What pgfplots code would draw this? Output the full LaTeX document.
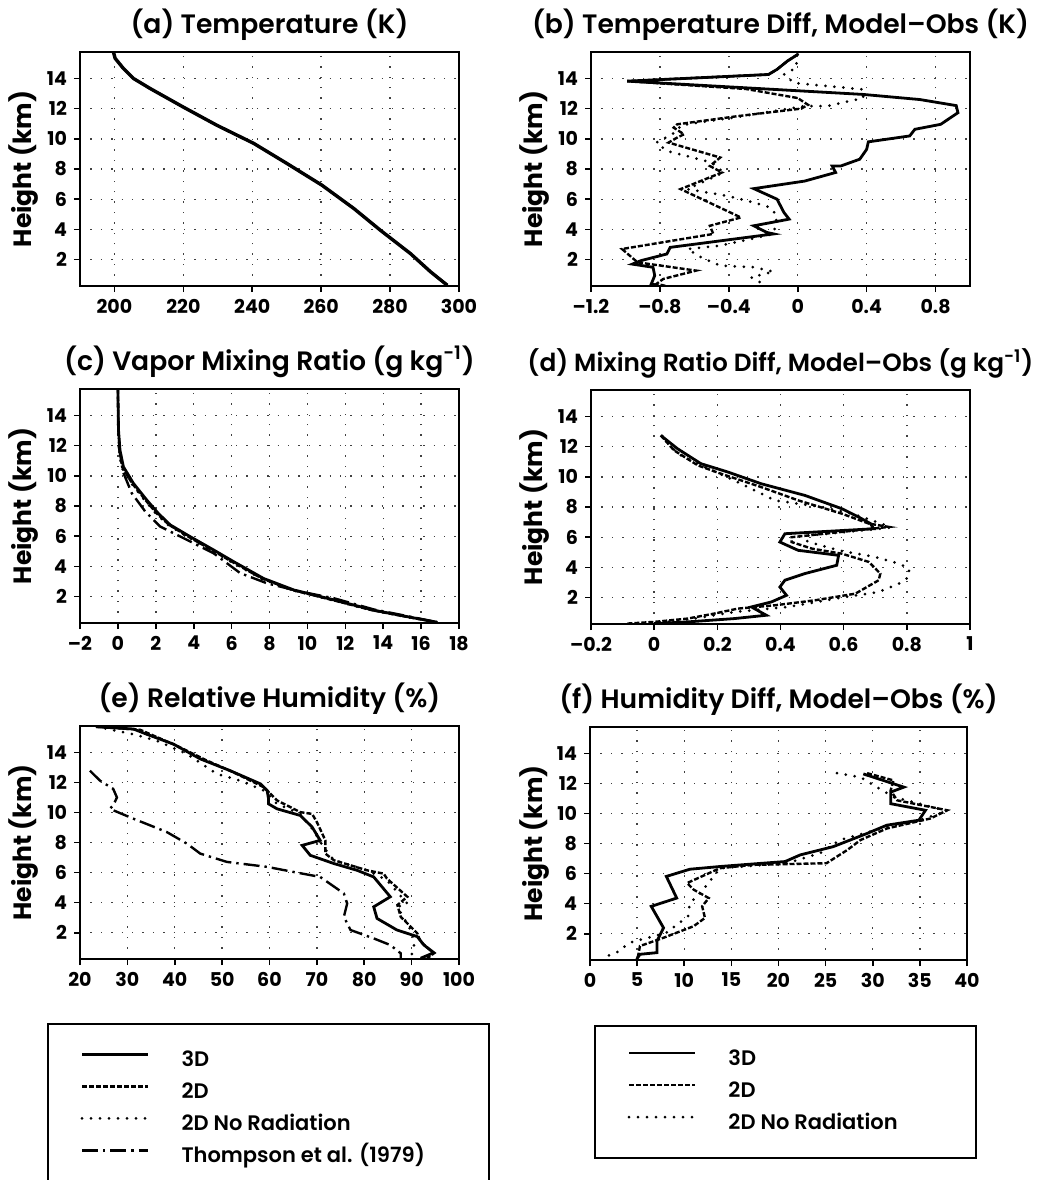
\documentclass[border=0pt]{standalone}
\usepackage{pgfplots}
\pgfplotsset{compat=1.18}
\usepackage{fontspec}
\setmainfont{Poppins}
\newfontfamily\medium{Poppins SemiBold}

\pgfplotsset{
  panel/.style={
    scale only axis, width=189.5pt, height=117pt,
    ymin=0.25, ymax=15.75, ytick={2,4,...,14},
    axis line style={line width=1.1pt},
    tick align=outside, xtick pos=left, ytick pos=left,
    major tick length=3pt, tick style={line width=0.8pt, black},
    grid=major, major grid style={line width=0.7pt, dash pattern=on 0.7pt off 4.5pt, black!75},
    /pgf/number format/assume math mode=true,
    tick label style={font=\fontsize{9.5}{11}\selectfont\bfseries},
    ylabel={Height (km)},
    every axis y label/.style={at={(axis description cs:-0.148,0.5)}, rotate=90, anchor=center,
      font=\fontsize{12.5}{14}\selectfont\bfseries},
    every axis title/.style={at={(0.5,1)}, anchor=base, yshift=9.5pt,
      font=\fontsize{13.3}{15}\selectfont\medium},
  },
  s3d/.style={black, line width=1.4pt},
  s2d/.style={black, line width=1.2pt, dash pattern=on 2.5pt off 1pt},
  snr/.style={black, line width=1.5pt, line cap=round, dash pattern=on 0pt off 4.5pt},
  sth/.style={black, line width=1.2pt, dash pattern=on 8pt off 2.5pt on 1.2pt off 2.5pt},
  leg/.style={
    legend cell align=left,
    legend image code/.code={\path[draw=none] (0pt,3.5pt) -- (17pt,3.5pt); \draw[##1] (17pt,3.5pt) -- (50pt,3.5pt);},
    legend style={draw=black, line width=1pt, inner xsep=0pt, inner ysep=13pt,
      column sep=16pt, row sep=5pt,
      nodes={inner sep=0pt, text height=8pt, text depth=3pt},
      font=\fontsize{10.5}{12}\selectfont\medium},
  },
}

\begin{document}
\begin{tikzpicture}
\useasboundingbox (0,0) rectangle (526.5pt,-590pt);

% (a)
\begin{axis}[panel, at={(40pt,-26pt)}, anchor=north west,
  xmin=190, xmax=300, xtick={200,220,...,300},
  title={(a) Temperature (K)}]
\addplot[s2d] table {
199.7 15.75
200.2 15.33
202.6 14.66
205.5 14.0
210.3 13.34
220.0 12.1
229.7 10.9
240.4 9.7
250.1 8.36
260.2 6.93
269.5 5.38
277.2 3.94
285.9 2.4
291.7 1.2
296.6 0.3
};
\addplot[s3d, line width=1.7pt] table {
199.7 15.75
200.2 15.33
202.6 14.66
205.5 14.0
210.3 13.34
220.0 12.1
229.7 10.9
240.4 9.7
250.1 8.36
260.2 6.93
269.5 5.38
277.2 3.94
285.9 2.4
291.7 1.2
296.6 0.3
};
\end{axis}

% (b)
\begin{axis}[panel, at={(295.5pt,-26pt)}, anchor=north west,
  xmin=-1.2, xmax=1.0, xtick={-1.2,-0.8,-0.4,0,0.4,0.8},
  xticklabels={--1.2,--0.8,--0.4,0,0.4,0.8},
  title={(b) Temperature Diff, Model\textendash Obs (K)}]
\addplot[s3d] table {
0.0 15.59
-0.06 15.15
-0.12 14.6
-0.17 14.26
-0.99 13.82
0.38 12.94
0.71 12.6
0.92 12.2
0.93 11.73
0.83 10.96
0.68 10.63
0.65 10.19
0.41 9.8
0.40 9.3
0.36 8.65
0.25 8.2
0.20 8.2
0.22 7.77
0.04 7.2
-0.255 6.7
-0.12 6.0
-0.08 5.12
-0.05 4.68
-0.10 4.57
-0.255 4.24
-0.18 3.8
-0.14 3.7
-0.74 2.81
-0.76 2.37
-0.91 1.93
-0.96 1.7
-0.84 1.49
-0.83 0.94
-0.85 0.39
-0.81 0.28
};
\addplot[s2d] table {
0.0 15.59
-0.06 15.15
-0.12 14.6
-0.17 14.26
-0.99 13.82
-0.30 13.3
0.0 12.7
0.06 12.25
0.02 12.0
-0.35 11.5
-0.70 10.96
-0.72 10.74
-0.66 10.3
-0.70 10.08
-0.75 9.75
-0.45 8.76
-0.51 8.2
-0.44 7.77
-0.68 6.67
-0.33 4.79
-0.51 4.24
-0.49 3.7
-1.02 2.7
-0.93 1.82
-0.59 1.27
-0.78 0.72
-0.82 0.39
-0.76 0.24
};
\addplot[snr] table {
0.00 15.59
-0.01 14.7
-0.08 14.26
-0.02 13.7
0.38 13.27
0.38 12.7
0.17 12.17
0.04 12.17
-0.35 11.45
-0.68 10.9
-0.70 10.5
-0.82 9.75
-0.76 9.2
-0.50 8.43
-0.43 7.77
-0.64 6.67
-0.41 6.22
-0.27 5.83
-0.16 5.45
-0.12 4.9
-0.14 3.7
-0.45 2.92
-0.64 2.7
-0.56 2.15
-0.45 1.6
-0.25 1.49
-0.14 1.2
-0.27 0.83
-0.20 0.39
};
\end{axis}

% (c)
\begin{axis}[panel, at={(40pt,-194.5pt)}, anchor=north west,
  xmin=-2, xmax=18, xtick={-2,0,...,18},
  xticklabels={--2,0,2,4,6,8,10,12,14,16,18},
  title={(c) Vapor Mixing Ratio (g kg\textsuperscript{-1})}]
\addplot[s3d] table {
0.00 15.75
0.03 13.05
0.11 11.7
0.29 10.6
0.82 9.5
1.52 8.4
2.14 7.5
2.76 6.75
3.80 5.98
5.05 5.09
6.10 4.32
7.69 3.2
9.28 2.44
11.4 1.78
13.5 1.1
15.27 0.67
16.85 0.3
};
\addplot[s2d] table {
0.00 15.75
0.03 13.05
0.09 11.7
0.22 10.6
0.75 9.5
1.45 8.4
2.05 7.5
2.70 6.75
3.70 5.98
4.95 5.09
6.00 4.32
7.60 3.2
9.20 2.44
11.3 1.78
13.4 1.1
15.2 0.67
16.85 0.3
};
\addplot[snr] table {
0.00 15.75
0.02 13.05
0.07 11.7
0.17 10.6
0.70 9.5
1.40 8.4
2.00 7.5
2.65 6.75
3.65 5.98
4.90 5.09
5.95 4.32
7.55 3.2
9.15 2.44
11.3 1.78
13.4 1.1
15.2 0.67
16.85 0.3
};
\addplot[sth] table {
0.03 12.05
0.29 10.2
0.73 8.85
1.44 7.64
2.23 6.64
3.64 5.76
5.05 4.87
6.46 3.55
7.87 2.88
9.63 2.33
11.4 1.89
13.5 1.15
15.3 0.7
16.85 0.3
};
\end{axis}

% (d)
\begin{axis}[panel, at={(295.5pt,-195pt)}, anchor=north west,
  xmin=-0.2, xmax=1, xtick={-0.2,0,0.2,0.4,0.6,0.8,1},
  xticklabels={--0.2,0,0.2,0.4,0.6,0.8,1},
  title style={font=\fontsize{12.4}{14}\selectfont\medium},
  title={(d) Mixing Ratio Diff, Model\textendash Obs (g kg\textsuperscript{-1})}]
\addplot[s3d] table {
0.021 12.74
0.074 11.86
0.148 10.87
0.233 10.32
0.339 9.54
0.477 8.77
0.594 7.89
0.647 7.34
0.685 6.9
0.695 6.56
0.414 6.23
0.398 5.68
0.456 5.13
0.584 4.8
0.578 4.14
0.477 3.59
0.414 3.15
0.398 2.7
0.419 2.15
0.371 1.71
0.308 1.38
0.355 0.83
0.254 0.61
0.106 0.39
0.0 0.28
};
\addplot[s2d] table {
0.021 12.74
0.063 11.75
0.138 10.76
0.212 10.2
0.339 9.32
0.456 8.44
0.594 7.56
0.680 6.9
0.743 6.68
0.435 6.0
0.435 5.68
0.500 5.24
0.594 4.91
0.680 4.36
0.716 3.59
0.711 3.15
0.637 2.26
0.509 1.82
0.382 1.49
0.265 1.27
0.190 0.94
0.106 0.61
0.0 0.39
-0.085 0.28
};
\addplot[snr] table {
0.026 12.7
0.074 11.53
0.159 10.65
0.254 9.76
0.382 8.44
0.530 8.0
0.626 7.56
0.720 6.9
0.748 6.63
0.460 6.05
0.490 5.68
0.584 5.13
0.700 4.69
0.775 4.25
0.807 3.92
0.807 3.37
0.775 2.93
0.711 2.37
0.605 2.04
0.424 1.38
0.254 1.05
0.127 0.61
0.042 0.39
-0.043 0.28
};
\end{axis}

% (e)
\begin{axis}[panel, leg, at={(40pt,-363pt)}, anchor=north west, height=116.5pt,
  xmin=20, xmax=100, xtick={20,30,...,100},
  title={(e) Relative Humidity (\%)},
  legend style={at={(axis description cs:-0.087,-0.276)}, anchor=north west}]
\addplot[s3d] table {
23.5 15.7
31.3 15.55
34.1 15.2
39.7 14.55
45.4 13.56
51.7 12.78
58.1 11.9
59.5 11.46
59.8 10.9
59.8 10.57
61.6 10.24
66.5 9.8
69.0 9.03
70.7 8.14
66.9 7.81
68.6 7.15
73.6 6.6
78.5 6.15
82.0 5.71
85.5 4.39
82.0 3.72
82.7 2.95
86.9 2.18
91.2 1.74
92.6 1.18
94.7 0.67
91.9 0.3
};
\addlegendentry{3D}
\addplot[s2d] table {
23.5 15.7
32.7 15.5
40.4 14.44
46.8 13.45
52.4 12.67
58.8 11.68
60.2 11.24
61.6 10.8
66.5 10.02
69.0 9.9
70.0 9.36
71.8 8.14
71.8 7.26
73.6 6.82
80.6 6.15
84.1 5.93
84.8 5.6
89.1 4.39
87.0 3.84
87.7 3.06
91.2 1.96
91.9 1.4
94.7 0.63
93.3 0.3
};
\addlegendentry{2D}
\addplot[snr] table {
23.5 15.7
31.3 15.2
36.2 14.77
42.6 13.89
48.9 12.56
53.8 12.12
58.8 11.46
61.6 10.57
66.5 9.9
69.3 8.8
71.4 7.7
73.6 6.82
80.6 6.15
84.8 5.49
89.1 3.94
87.0 3.72
89.8 2.18
90.5 1.51
90.5 1.07
89.8 0.3
};
\addlegendentry{2D No Radiation}
\addplot[sth] table {
22.1 12.78
24.2 12.12
27.0 11.57
27.8 11.0
27.0 10.46
26.3 10.24
31.3 9.58
38.3 8.7
42.6 7.92
45.4 7.26
51.0 6.71
59.5 6.38
65.1 6.04
70.7 5.71
75.7 4.61
76.4 3.94
75.7 3.06
77.1 2.18
82.0 1.62
85.5 1.18
87.7 0.63
87.7 0.3
};
\addlegendentry{\makebox[153.5pt][l]{Thompson et al. (1979)}}
\end{axis}

% (f)
\begin{axis}[panel, leg, at={(295pt,-363.5pt)}, anchor=north west, width=188.5pt, height=116.5pt,
  xmin=0, xmax=40, xtick={0,5,...,40},
  title={(f) Humidity Diff, Model\textendash Obs (\%)},
  legend style={at={(axis description cs:0.0106,-0.279)}, anchor=north west, inner ysep=11.5pt}]
\addplot[s3d] table {
29.0 12.63
33.3 11.75
31.9 11.42
31.9 10.65
35.6 10.21
34.9 9.55
31.5 9.22
29.4 8.67
25.8 7.79
22.3 7.24
20.7 6.8
17.3 6.64
13.8 6.47
10.6 6.29
8.1 5.81
9.2 4.37
6.5 3.82
7.8 2.39
7.1 1.51
7.1 0.74
5.3 0.63
4.96 0.3
};
\addlegendentry{3D}
\addplot[s2d] table {
29.4 12.68
32.2 12.2
31.9 11.53
32.6 10.87
37.9 10.21
36.1 9.66
31.5 9.0
28.7 8.23
27.3 7.57
25.1 6.69
17.3 6.58
13.8 6.36
10.3 5.37
11.0 4.93
12.6 4.37
11.9 3.82
12.2 3.05
11.0 2.5
7.8 1.73
5.3 1.18
5.1 0.52
4.96 0.3
};
\addlegendentry{2D}
\addplot[snr] table {
26.2 12.68
28.7 12.41
32.2 11.09
37.9 10.17
35.0 9.55
31.5 9.11
26.5 8.23
24.4 7.35
20.9 6.69
13.8 6.36
11.7 4.7
10.6 4.04
10.4 3.16
8.1 2.06
4.2 1.4
2.8 0.74
1.4 0.41
};
\addlegendentry{\makebox[123.5pt][l]{2D No Radiation}}
\end{axis}
\end{tikzpicture}
\end{document}
